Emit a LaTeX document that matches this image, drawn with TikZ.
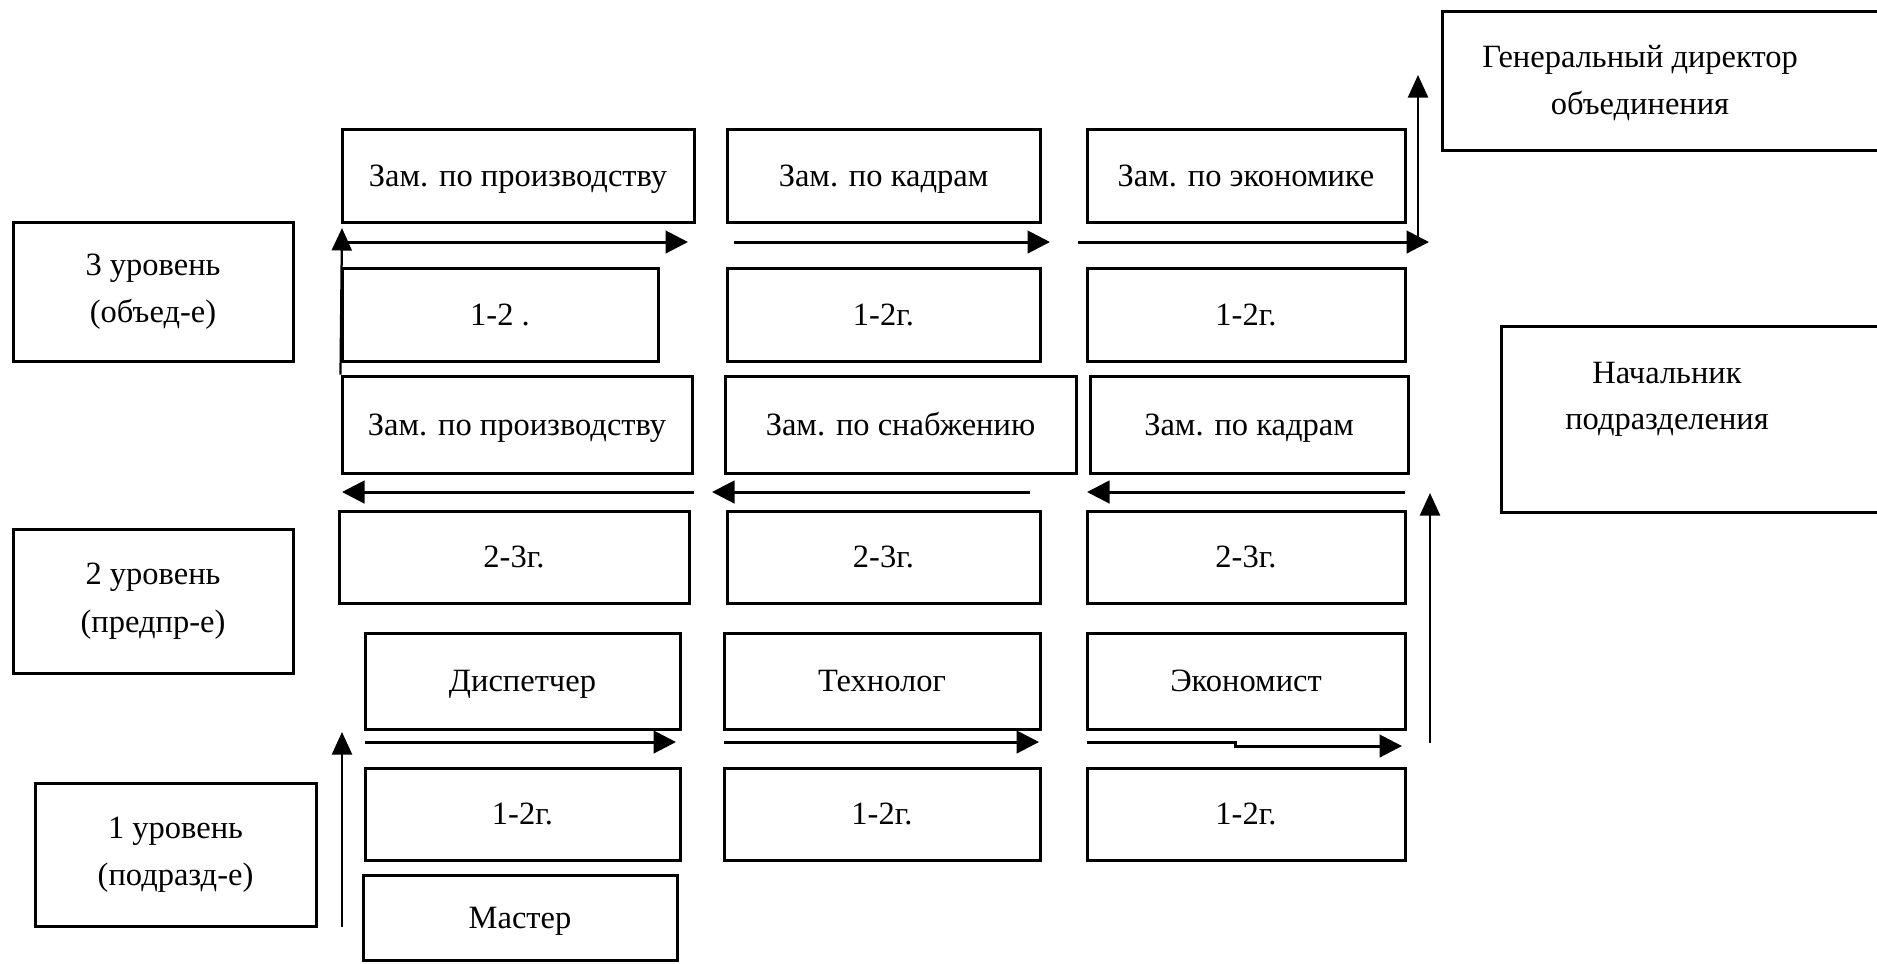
\documentclass[tikz,border=0pt]{standalone}
\usepackage{fontspec}
\setmainfont{Liberation Serif}
\usetikzlibrary{arrows.meta}
% rectangle given by two corners, with a name and a centred text
\newcommand\rbox[7][one line]{\node[box, #1, minimum width={(#5-#3)*0.4pt},
  minimum height={(#6-#4)*0.4pt}] (#2) at ({(#3+#5)/2},{(#4+#6)/2}) {#7};}
\begin{document}
\begin{tikzpicture}[x=0.4pt,y=-0.4pt,
  box/.style={draw, line width=1.2pt, inner sep=0pt, align=center,
    font=\fontsize{13}{19}\selectfont},
  one line/.style={text height=8.6pt, text depth=0pt},
  two lines/.style={},
  label text/.style={align=center, inner sep=0pt, font=\fontsize{13}{18.5}\selectfont},
  flow/.style={line width=1.2pt, -{Triangle[length=9pt,width=9pt]}},
  rise/.style={line width=0.9pt, -{Triangle[length=9pt,width=8pt]}}]
\clip (0,0) rectangle (1877,963);
\fill[white] (0,0) rectangle (1877,963);

% heads on the right
\rbox[two lines]{gen}{1442}{11}{1910}{150}{}
\node[label text] (gentxt) at (1640,83) {Генеральный директор\\объединения};
\rbox[two lines]{head}{1501}{326}{1910}{512}{}
\node[label text] (headtxt) at (1667,399) {Начальник\\подразделения};

% levels
\rbox[two lines]{lv3}{13}{222}{293}{361}{3 уровень\\(объед-е)}
\rbox[two lines]{lv2}{13}{529}{293}{673}{2 уровень\\(предпр-е)}
\rbox[two lines]{lv1}{35}{783}{316}{926}{1 уровень\\(подразд-е)}

% level 3
\rbox{za1}{342}{129}{694}{222}{Зам. по производству}
\rbox{za2}{727}{129}{1040}{222}{Зам. по кадрам}
\rbox{za3}{1087}{129}{1405}{222}{Зам. по экономике}
\rbox{ya1}{342}{268}{658}{361}{1-2 .}
\rbox{ya2}{727}{268}{1040}{361}{1-2г.}
\rbox{ya3}{1087}{268}{1405}{361}{1-2г.}

% level 2
\rbox{zb1}{342}{376}{692}{473}{Зам. по производству}
\rbox{zb2}{725}{376}{1076}{473}{Зам. по снабжению}
\rbox{zb3}{1090}{376}{1408}{473}{Зам. по кадрам}
\rbox{yb1}{339}{511}{689}{603}{2-3г.}
\rbox{yb2}{727}{511}{1040}{603}{2-3г.}
\rbox{yb3}{1087}{511}{1405}{603}{2-3г.}

% level 1
\rbox{zc1}{365}{633}{680}{729}{Диспетчер}
\rbox{zc2}{724}{633}{1040}{729}{Технолог}
\rbox{zc3}{1087}{633}{1405}{729}{Экономист}
\rbox{yc1}{365}{768}{680}{860}{1-2г.}
\rbox{yc2}{724}{768}{1040}{860}{1-2г.}
\rbox{yc3}{1087}{768}{1405}{860}{1-2г.}
\rbox{mst}{363}{875}{677}{960}{Мастер}

% arrow ends
\coordinate (a1s) at (342,242);  \coordinate (a1e) at (688,242);
\coordinate (a2s) at (734,242);  \coordinate (a2e) at (1050,242);
\coordinate (a3s) at (1078,242); \coordinate (a3e) at (1429,242);
\coordinate (u3s) at (1418,242); \coordinate (u3e) at (1418,75);
\coordinate (u2e) at (342,228);

\coordinate (b1s) at (694,492);  \coordinate (b1e) at (342,492);
\coordinate (b2s) at (1030,492); \coordinate (b2e) at (712,492);
\coordinate (b3s) at (1405,492); \coordinate (b3e) at (1087,492);
\coordinate (v2s) at (1430,743); \coordinate (v2e) at (1430,493);

\coordinate (c1s) at (365,742);  \coordinate (c1e) at (676,742);
\coordinate (c2s) at (724,742);  \coordinate (c2e) at (1039,742);
\coordinate (c3s) at (1087,742); \coordinate (c3k) at (1235,742);
\coordinate (c3j) at (1235,746); \coordinate (c3e) at (1402,746);
\coordinate (v1s) at (342,927);  \coordinate (v1e) at (342,732);

% level 3 flow, up to the general director
\draw[flow] (a1s) -- (a1e);
\draw[flow] (a2s) -- (a2e);
\draw[flow] (a3s) -- (a3e);
\draw[rise] (u3s) -- (u3e);
\draw[rise] (zb1.north west) -- (u2e);

% level 2 flow, leftwards
\draw[flow] (b1s) -- (b1e);
\draw[flow] (b2s) -- (b2e);
\draw[flow] (b3s) -- (b3e);
\draw[rise] (v2s) -- (v2e);

% level 1 flow
\draw[flow] (c1s) -- (c1e);
\draw[flow] (c2s) -- (c2e);
\draw[flow] (c3s) -- (c3k) -- (c3j) -- (c3e);
\draw[rise] (v1s) -- (v1e);
\end{tikzpicture}
\end{document}
